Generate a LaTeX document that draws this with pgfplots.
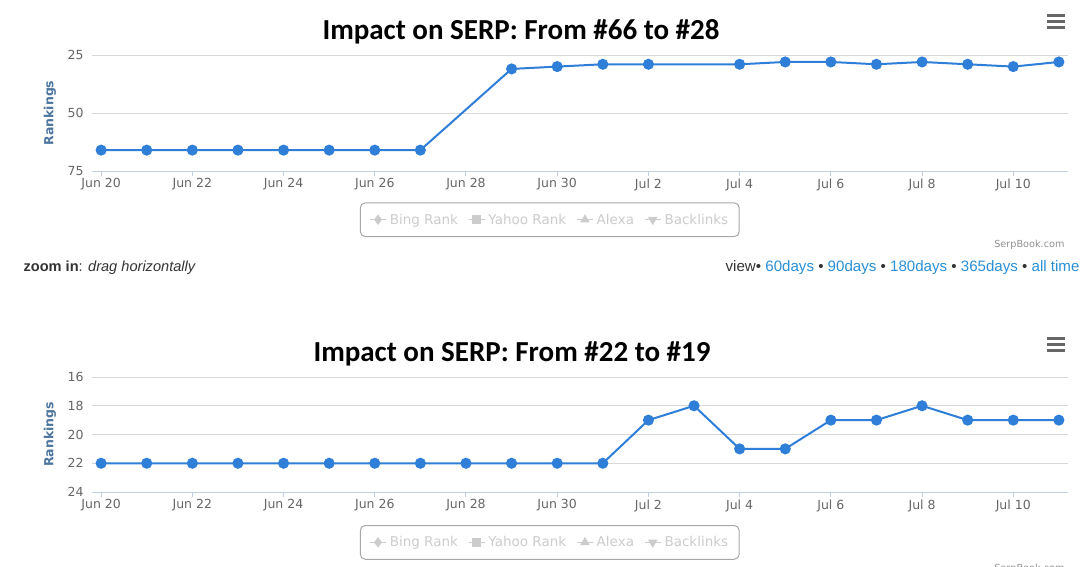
\documentclass[border=0pt]{standalone}
\usepackage{fontspec}
\setmainfont{DejaVu Sans}
\newfontfamily\titlefont{Carlito}
\newfontfamily\arialfont{Liberation Sans}
\usepackage{pgfplots}
\pgfplotsset{compat=1.18}
\definecolor{serie}{HTML}{2F7ED8}
\definecolor{gridc}{HTML}{D8D8D8}
\definecolor{axisc}{HTML}{C0D0E0}
\definecolor{tickc}{HTML}{666666}
\definecolor{ylab}{HTML}{4D759E}
\definecolor{hid}{HTML}{CCCCCC}
\definecolor{lborder}{HTML}{A8A8A8}
\definecolor{linkc}{HTML}{2A8FD6}
\definecolor{credit}{HTML}{909090}
\definecolor{menuc}{HTML}{666666}

\pgfplotstableread{
x y
0 66
1 66
2 66
3 66
4 66
5 66
6 66
7 66
9 31
10 30
11 29
12 29
14 29
15 28
16 28
17 29
18 28
19 29
20 30
21 28
}\topdata

\pgfplotstableread{
x y
0 22
1 22
2 22
3 22
4 22
5 22
6 22
7 22
8 22
9 22
10 22
11 22
12 19
13 18
14 21
15 21
16 19
17 19
18 18
19 19
20 19
21 19
}\botdata

\pgfplotsset{serpaxis/.style={
  scale only axis, width=976pt, height=116pt,
  xmin=-0.2, xmax=21.2,
  y dir=reverse,
  axis x line*=bottom, axis y line*=left,
  x axis line style={draw=axisc, line width=1pt},
  y axis line style={draw=none},
  ymajorgrids, grid style={draw=gridc, line width=1pt},
  xtick={0,2,...,20},
  xticklabels={Jun 20,Jun 22,Jun 24,Jun 26,Jun 28,Jun 30,Jul 2,Jul 4,Jul 6,Jul 8,Jul 10},
  tick align=outside,
  major tick length=5pt,
  xtick style={draw=axisc, line width=1pt},
  ytick style={draw=none},
  every tick label/.append style={font=\fontsize{12.5}{14}\selectfont, text=tickc},
  xticklabel style={yshift=1pt},
  /pgf/number format/assume math mode=true,
  ylabel={Rankings},
  every axis y label/.style={at={(axis description cs:-0.043,0.5)}, rotate=90, anchor=center,
    font=\bfseries\fontsize{12.5}{14}\selectfont, text=ylab},
  legend columns=4,
  legend style={at={(0.469,-0.27)}, anchor=north, draw=lborder, line width=1pt,
    rounded corners=5pt, font=\fontsize{13.5}{16}\selectfont, text=hid,
    inner xsep=9pt, inner ysep=9pt,
    /tikz/every odd column/.append style={column sep=1pt},
    /tikz/every even column/.append style={column sep=8pt}},
  legend image code/.code={%
    \draw[##1, mark repeat=2, mark phase=2] plot coordinates {(0pt,0pt) (8pt,0pt) (16pt,0pt)};},
}}

\begin{document}
\begin{tikzpicture}
\useasboundingbox (0pt,0pt) rectangle (1089pt,-567pt);

% ---------- top chart ----------
\node[font=\titlefont\bfseries\fontsize{29}{34}\selectfont] at (521pt,-32pt) {Impact on SERP: From \#66 to \#28};
\begin{axis}[serpaxis, at={(92pt,-171pt)}, anchor=south west,
  ymin=25, ymax=75, ytick={25,50,75}]
\addlegendimage{hid, line width=1.5pt, mark=diamond*, mark size=4pt}
\addlegendentry{Bing Rank}
\addlegendimage{hid, line width=1.5pt, mark=square*, mark size=3.5pt}
\addlegendentry{Yahoo Rank}
\addlegendimage{hid, line width=1.5pt, mark=triangle*, mark size=4pt}
\addlegendentry{Alexa}
\addlegendimage{hid, line width=1.5pt, mark=triangle*, mark options={rotate=180}, mark size=4pt}
\addlegendentry{Backlinks}
\addplot[serie, line width=2pt, mark=*, mark size=4.5pt, mark options={draw=serie, fill=serie}, forget plot] table[x=x, y=y] {\topdata};
\end{axis}
\foreach \yy in {16,22,28} {\draw[menuc, line width=3pt] (1047pt,-\yy pt) -- (1065pt,-\yy pt);}
\node[anchor=east, text=credit, font=\fontsize{9.7}{11}\selectfont] at (1068pt,-245pt) {SerpBook.com};
\node[anchor=west, text=black!80, font=\arialfont\fontsize{14.6}{17}\selectfont] at (20pt,-268pt) {\textbf{zoom in}: \textit{drag horizontally}};
\node[anchor=east, font=\arialfont\fontsize{15.1}{17}\selectfont] at (1083pt,-268pt) {\textcolor{black!80}{view}\textcolor{black!80}{•} \textcolor{linkc}{60days} \textcolor{black!80}{•} \textcolor{linkc}{90days} \textcolor{black!80}{•} \textcolor{linkc}{180days} \textcolor{black!80}{•} \textcolor{linkc}{365days} \textcolor{black!80}{•} \textcolor{linkc}{all time}};

% ---------- bottom chart ----------
\node[font=\titlefont\bfseries\fontsize{29}{34}\selectfont] at (512pt,-354pt) {Impact on SERP: From \#22 to \#19};
\begin{axis}[serpaxis, at={(92pt,-492pt)}, anchor=south west, height=115pt,
  ymin=16, ymax=24, ytick={16,18,20,22,24},
  legend style={at={(0.469,-0.287)}}]
\addlegendimage{hid, line width=1.5pt, mark=diamond*, mark size=4pt}
\addlegendentry{Bing Rank}
\addlegendimage{hid, line width=1.5pt, mark=square*, mark size=3.5pt}
\addlegendentry{Yahoo Rank}
\addlegendimage{hid, line width=1.5pt, mark=triangle*, mark size=4pt}
\addlegendentry{Alexa}
\addlegendimage{hid, line width=1.5pt, mark=triangle*, mark options={rotate=180}, mark size=4pt}
\addlegendentry{Backlinks}
\addplot[serie, line width=2pt, mark=*, mark size=4.5pt, mark options={draw=serie, fill=serie}, forget plot] table[x=x, y=y] {\botdata};
\end{axis}
\foreach \yy in {338,344,350} {\draw[menuc, line width=3pt] (1047pt,-\yy pt) -- (1065pt,-\yy pt);}
\node[anchor=east, text=credit, font=\fontsize{9.7}{11}\selectfont] at (1068pt,-569pt) {SerpBook.com};
\end{tikzpicture}
\end{document}
